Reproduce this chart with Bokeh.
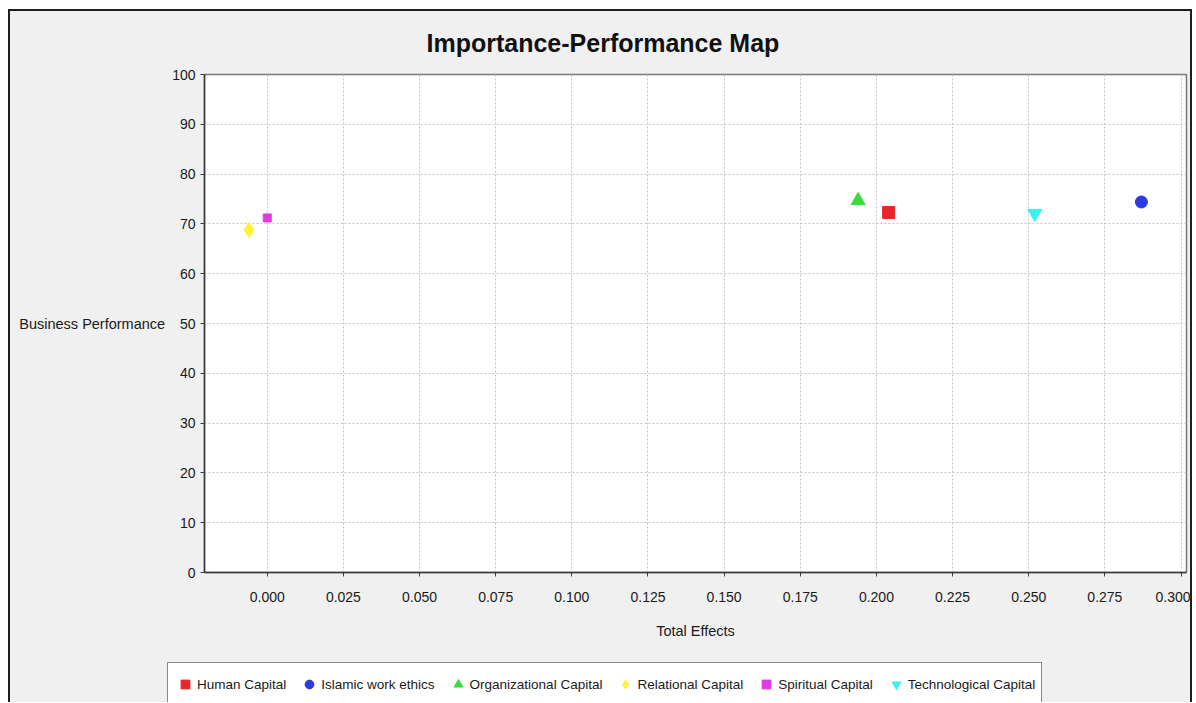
from bokeh.plotting import figure
from bokeh.layouts import column
from bokeh.models import (Legend, LegendItem, FixedTicker, Range1d,
                          ColumnDataSource)
from bokeh.embed import file_html
from bokeh.resources import INLINE

# ---------------- data ----------------
categories = ["Human Capital", "Islamic work ethics", "Organizational Capital",
              "Relational Capital", "Spiritual Capital", "Technological Capital"]
total_effects = [0.204, 0.287, 0.194, -0.006, 0.000, 0.252]
performance = [72.3, 74.4, 74.7, 68.8, 71.2, 72.1]

x_tick_values = [0.000, 0.025, 0.050, 0.075, 0.100, 0.125, 0.150,
                 0.175, 0.200, 0.225, 0.250, 0.275, 0.300]
x_tick_labels = ["0.000", "0.025", "0.050", "0.075", "0.100", "0.125", "0.150",
                 "0.175", "0.200", "0.225", "0.250", "0.275", "0.300"]
y_tick_values = [0, 10, 20, 30, 40, 50, 60, 70, 80, 90, 100]
y_tick_labels = ["0", "10", "20", "30", "40", "50", "60", "70", "80", "90", "100"]

title_text = "Importance-Performance Map"
x_label = "Total Effects"
y_label = "Business Performance"

# ---------------- styles ----------------
FONT = "Liberation Sans"
BG = "#f0f0f0"
markers = ["square", "circle", "triangle", "diamond", "square", "inverted_triangle"]
colors = ["#e6262b", "#2c3ae0", "#3cdc3c", "#fff230", "#e23ae2", "#3cf0f0"]
sizes = [12, 12, 14, 15, 8, 14]

# ---------------- main chart ----------------
p = figure(width=1180, height=651,
           x_range=Range1d(-0.0206, 0.3018), y_range=Range1d(0, 100),
           output_backend="svg", toolbar_location=None,
           min_border_left=194, min_border_right=4,
           min_border_top=63, min_border_bottom=90,
           background_fill_color="white", border_fill_color=BG)
p.frame_align = False

p.title.text = title_text
p.title.align = "left"
p.title.offset = 222
p.title.vertical_align = "top"
p.title.text_font = FONT
p.title.text_font_size = "25px"
p.title.text_font_style = "bold"
p.title.text_color = "#111111"
p.title.standoff = 32

p.outline_line_color = "#7a7a7a"
p.outline_line_width = 1.5

p.xgrid.ticker = FixedTicker(ticks=x_tick_values)
p.ygrid.ticker = FixedTicker(ticks=y_tick_values)
for g in (p.xgrid, p.ygrid):
    g.grid_line_color = "#c4c4c4"
    g.grid_line_dash = "2 2"
    g.grid_line_width = 1

p.xaxis.ticker = FixedTicker(ticks=x_tick_values)
p.yaxis.ticker = FixedTicker(ticks=y_tick_values)
p.xaxis.major_label_overrides = {v: s for v, s in zip(x_tick_values, x_tick_labels)}
p.yaxis.major_label_overrides = {v: s for v, s in zip(y_tick_values, y_tick_labels)}
for ax in (p.xaxis, p.yaxis):
    ax.axis_line_color = "#3a3a3a"
    ax.axis_line_width = 1.5
    ax.major_tick_line_color = "#3a3a3a"
    ax.major_tick_out = 4
    ax.major_tick_in = 0
    ax.minor_tick_out = 0
    ax.minor_tick_in = 0
    ax.major_label_text_font = FONT
    ax.major_label_text_font_size = "14px"
    ax.major_label_text_color = "#1a1a1a"
    ax.axis_label_text_font = FONT
    ax.axis_label_text_font_size = "14.5px"
    ax.axis_label_text_font_style = "normal"
    ax.axis_label_text_color = "#1a1a1a"

p.xaxis.axis_label = x_label
p.xaxis.major_label_standoff = 15
p.xaxis.axis_label_standoff = 18
p.yaxis.axis_label = y_label
p.yaxis.axis_label_orientation = "horizontal"
p.yaxis.major_label_standoff = 5
p.yaxis.axis_label_standoff = 4

for i, name in enumerate(categories):
    src = ColumnDataSource(dict(x=[total_effects[i]], y=[performance[i]]))
    p.scatter("x", "y", source=src, marker=markers[i], size=sizes[i],
              fill_color=colors[i], line_color=colors[i], line_width=1)

# ---------------- legend strip ----------------
q = figure(width=1180, height=40, x_range=Range1d(0, 1), y_range=Range1d(1000, 1001),
           output_backend="svg", toolbar_location=None,
           x_axis_type=None, y_axis_type=None,
           min_border=0, min_border_left=0, min_border_right=0,
           min_border_top=0, min_border_bottom=0,
           background_fill_color=BG, border_fill_color=BG)
q.frame_align = False
q.outline_line_color = None
q.grid.visible = False

items = []
for i, name in enumerate(categories):
    src = ColumnDataSource(dict(x=[total_effects[i]], y=[performance[i]]))
    r = q.scatter("x", "y", source=src, marker=markers[i], size=sizes[i],
                  fill_color=colors[i], line_color=colors[i], line_width=1)
    items.append(LegendItem(label=name, renderers=[r]))

legend = Legend(items=items, location=(157, -4), orientation="horizontal",
                border_line_color="#111111", border_line_width=1.5,
                background_fill_color="white", background_fill_alpha=1.0,
                padding=6, spacing=12, label_standoff=1, margin=0,
                glyph_width=22, glyph_height=30,
                label_text_font=FONT, label_text_font_size="13.5px",
                label_text_color="#1a1a1a")
q.add_layout(legend)

layout = column(p, q, spacing=0)
layout.styles = {"border": "2px solid #1e1e1e", "border-bottom": "none",
                 "margin-left": "8px", "margin-top": "9px", "background-color": BG}

open("out.html", "w").write(file_html(layout, INLINE))
